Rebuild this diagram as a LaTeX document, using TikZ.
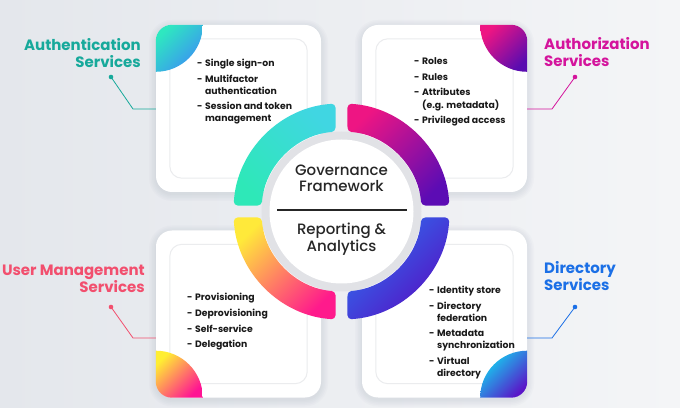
\documentclass[tikz,border=0pt]{standalone}
\usepackage{fontspec}
\setmainfont{Poppins}
\newfontfamily\popmed{Poppins Medium}
\usetikzlibrary{calc}
\definecolor{authc}{HTML}{17A99B}
\definecolor{authzc}{HTML}{D4149C}
\definecolor{userc}{HTML}{F24F6E}
\definecolor{dirc}{HTML}{1B6FE6}
\definecolor{bgl}{HTML}{E4E7EC}
\definecolor{bgr}{HTML}{F4F5F7}
\definecolor{innerc}{HTML}{EBECEE}
\definecolor{ringgray}{HTML}{E1E2E6}
\definecolor{shadowc}{HTML}{8A93A3}
\definecolor{mint}{HTML}{2EE8C0}
\definecolor{skyblue}{HTML}{3C8FF5}
\definecolor{pinkA}{HTML}{EE1583}
\definecolor{purpA}{HTML}{5A0CB0}
\definecolor{yellA}{HTML}{FFEE32}
\definecolor{pinkB}{HTML}{FF1493}
\definecolor{cyanA}{HTML}{10D8F2}
\definecolor{purpB}{HTML}{5A16C8}
\definecolor{segtealT}{HTML}{40D6E2}
\definecolor{segtealB}{HTML}{2EE8B8}
\definecolor{segpurp}{HTML}{5C0CB4}
\definecolor{segyell}{HTML}{FFE93A}
\definecolor{segpink}{HTML}{FF1A8C}
\definecolor{segblue}{HTML}{2E6FF0}
\definecolor{segviol}{HTML}{5512C3}
\newcommand{\isep}{3.5pt}
\begin{document}
\begin{tikzpicture}[x=1pt,y=1pt,
  card/.style={fill=white, rounded corners=16pt, inner sep=0pt, minimum width=165pt, minimum height=167pt},
  innerbox/.style={draw=innerc, line width=1pt, rounded corners=12pt},
  bullets/.style={font=\bfseries\fontsize{9.3}{12}\selectfont, inner sep=0pt, text=black!90},
  label/.style={font=\bfseries\fontsize{15}{15.5}\selectfont, inner sep=0pt},
  centertext/.style={font=\popmed\fontsize{15}{15}\selectfont, inner sep=0pt, text=black!85},
  conn/.style={line width=0.8pt},
  seg/.style={rounded corners=4pt},
  softshadow/.style={fill=shadowc, fill opacity=0.035}
]
\useasboundingbox (0,0) rectangle (680,407);
\shade[left color=bgl, right color=bgr] (0,0) rectangle (680,407);

% card positions
\coordinate (tlc) at (238.5,298.5);
\coordinate (trc) at (444.5,298.5);
\coordinate (blc) at (238.5,93);
\coordinate (brc) at (444.5,93);

% soft shadows
\foreach \p in {tlc,trc,blc,brc}{
  \foreach \e in {1,2.5,4,5.5,7}{
    \fill[softshadow, rounded corners=16pt+\e pt]
      ($(\p)+(-82.5-\e,-83.5-\e-2)$) rectangle ($(\p)+(82.5+\e,83.5+\e-2)$);
  }
}

% cards
\node[card] (tl) at (tlc) {};
\node[card] (tr) at (trc) {};
\node[card] (bl) at (blc) {};
\node[card] (br) at (brc) {};

\foreach \c in {tl,tr,bl,br}{
  \draw[innerbox] ($(\c.south west)+(14,14)$) rectangle ($(\c.north east)-(14,14)$);
}

% corner accents
\begin{scope}
  \clip[rounded corners=16pt] (tl.south west) rectangle (tl.north east);
  \clip (tl.north west) circle[radius=47pt];
  \shade[top color=mint, bottom color=skyblue, shading angle=45] (tl.north west) rectangle ++(47,-47);
\end{scope}
\begin{scope}
  \clip[rounded corners=16pt] (tr.south west) rectangle (tr.north east);
  \clip (tr.north east) circle[radius=47pt];
  \shade[top color=pinkA, bottom color=purpA, shading angle=45] (tr.north east) rectangle ++(-47,-47);
\end{scope}
\begin{scope}
  \clip[rounded corners=16pt] (bl.south west) rectangle (bl.north east);
  \clip (bl.south west) circle[radius=47pt];
  \shade[top color=yellA, bottom color=pinkB, shading angle=45] (bl.south west) rectangle ++(47,47);
\end{scope}
\begin{scope}
  \clip[rounded corners=16pt] (br.south west) rectangle (br.north east);
  \clip (br.south east) circle[radius=47pt];
  \shade[top color=cyanA, bottom color=purpB, shading angle=45] (br.south east) rectangle ++(-47,47);
\end{scope}

% connectors
\coordinate (authdot) at (111,330); \coordinate (authbend) at (133,298);
\coordinate (authzdot) at (575,330); \coordinate (authzbend) at (552,298);
\coordinate (userdot) at (111,100); \coordinate (userbend) at (133,69);
\coordinate (dirdot) at (575,100); \coordinate (dirbend) at (552,69);
\draw[conn, authc] (authdot) -- (authbend) -- (authbend -| tl.west);
\fill[authc] (authdot) circle[radius=2.3pt];
\draw[conn, authzc] (authzdot) -- (authzbend) -- (authzbend -| tr.east);
\fill[authzc] (authzdot) circle[radius=2.3pt];
\draw[conn, userc] (userdot) -- (userbend) -- (userbend -| bl.west);
\fill[userc] (userdot) circle[radius=2.3pt];
\draw[conn, dirc] (dirdot) -- (dirbend) -- (dirbend -| br.east);
\fill[dirc] (dirdot) circle[radius=2.3pt];

% labels
\node[label, text=authc, anchor=base east] (authlbl) at (141,356) {\begin{tabular}[t]{@{}r@{}}Authentication\\Services\end{tabular}};
\node[label, text=authzc, anchor=base west] (authzlbl) at (544,357) {\begin{tabular}[t]{@{}l@{}}Authorization\\Services\end{tabular}};
\node[label, text=userc, anchor=base east] (userlbl) at (145,131) {\begin{tabular}[t]{@{}r@{}}User Management\\Services\end{tabular}};
\node[label, text=dirc, anchor=base west] (dirlbl) at (544,133) {\begin{tabular}[t]{@{}l@{}}Directory\\Services\end{tabular}};

% bullet lists
\node[bullets, anchor=base west] (tltext) at (197,340) {\begin{tabular}[t]{@{}l@{\hspace{2.5pt}}l@{}}
- & Single sign-on\\[\isep]
- & Multifactor\\ & authentication\\[\isep]
- & Session and token\\ & management\end{tabular}};
\node[bullets, anchor=base west] (trtext) at (414,342) {\begin{tabular}[t]{@{}l@{\hspace{2.5pt}}l@{}}
- & Roles\\[\isep]
- & Rules\\[\isep]
- & Attributes\\ & (e.g. metadata)\\[\isep]
- & Privileged access\end{tabular}};
\node[bullets, anchor=base west] (bltext) at (187,106) {\begin{tabular}[t]{@{}l@{\hspace{2.5pt}}l@{}}
- & Provisioning\\[\isep]
- & Deprovisioning\\[\isep]
- & Self-service\\[\isep]
- & Delegation\end{tabular}};
\node[bullets, anchor=base west] (brtext) at (429,113) {\begin{tabular}[t]{@{}l@{\hspace{2.5pt}}l@{}}
- & Identity store\\[\isep]
- & Directory\\ & federation\\[\isep]
- & Metadata\\ & synchronization\\[\isep]
- & Virtual\\ & directory\end{tabular}};

% center ring
\coordinate (c) at (341.5,195.5);
\fill[ringgray] (c) circle[radius=80pt];
\fill[white] (c) circle[radius=72pt];
\shade[seg, top color=segtealT, bottom color=segtealB, shading angle=-45]
  ($(c)+(176.82:108pt)$) arc[start angle=176.82, end angle=93.18, radius=108pt]
  -- ($(c)+(94.30:80pt)$) arc[start angle=94.30, end angle=175.70, radius=80pt] -- cycle;
\shade[seg, top color=pinkA, bottom color=segpurp, shading angle=45]
  ($(c)+(86.82:108pt)$) arc[start angle=86.82, end angle=3.18, radius=108pt]
  -- ($(c)+(4.30:80pt)$) arc[start angle=4.30, end angle=85.70, radius=80pt] -- cycle;
\shade[seg, top color=segyell, bottom color=segpink, shading angle=45]
  ($(c)+(183.18:108pt)$) arc[start angle=183.18, end angle=266.82, radius=108pt]
  -- ($(c)+(265.70:80pt)$) arc[start angle=265.70, end angle=184.30, radius=80pt] -- cycle;
\shade[seg, top color=segblue, bottom color=segviol, shading angle=45]
  ($(c)+(273.18:108pt)$) arc[start angle=273.18, end angle=356.82, radius=108pt]
  -- ($(c)+(355.70:80pt)$) arc[start angle=355.70, end angle=274.30, radius=80pt] -- cycle;

\coordinate (divl) at (277,197); \coordinate (divr) at (407,197);
\draw[line width=1.1pt, black!85] (divl) -- (divr);
\node[centertext, anchor=base] (gov) at (341.5,231) {\begin{tabular}[t]{@{}c@{}}Governance\\Framework\end{tabular}};
\node[centertext, anchor=base] (rep) at (341.5,172) {\begin{tabular}[t]{@{}c@{}}Reporting \&\\Analytics\end{tabular}};
\end{tikzpicture}
\end{document}
